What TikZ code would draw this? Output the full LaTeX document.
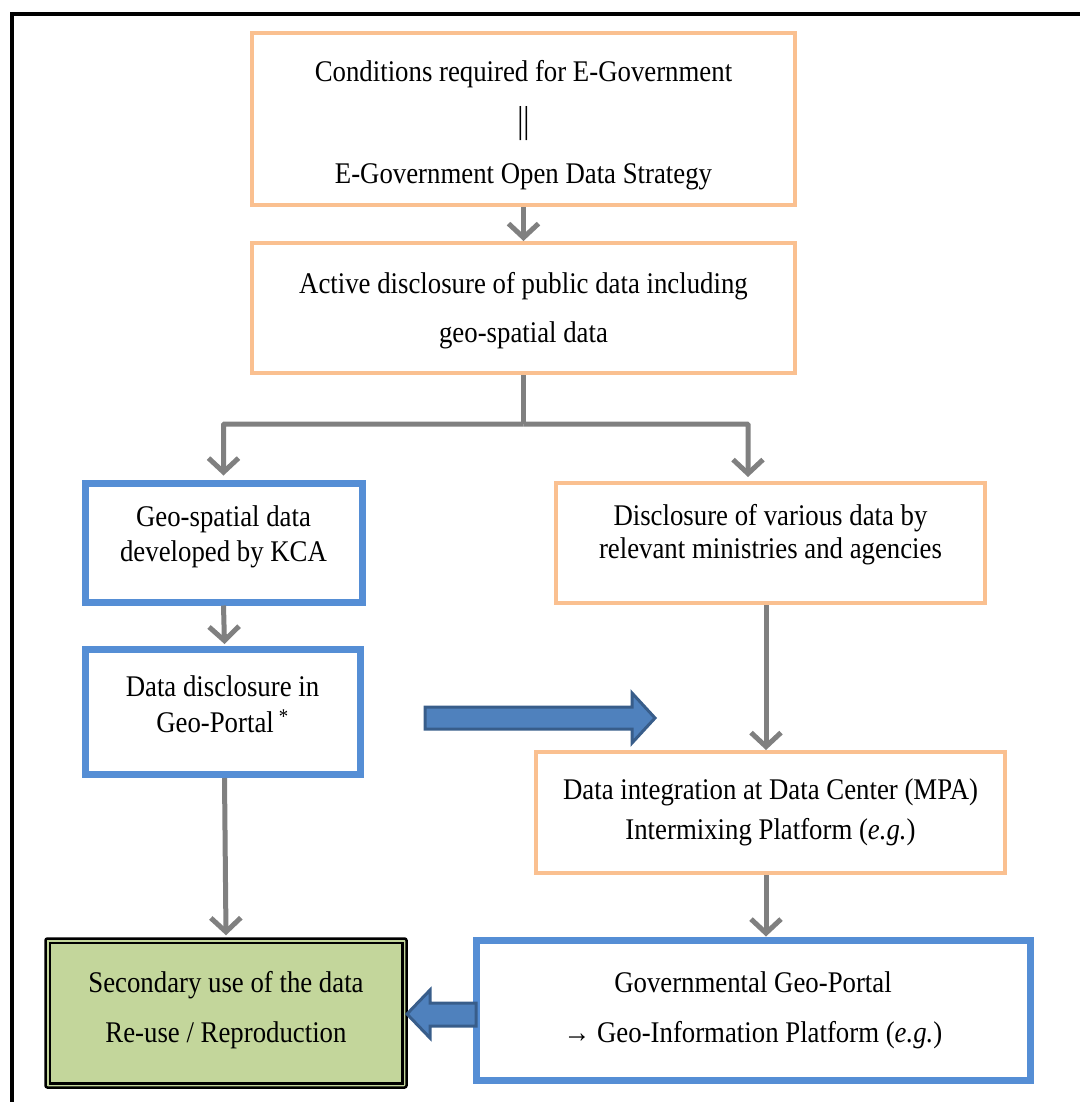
\documentclass[tikz,border=0pt]{standalone}
\usepackage{fontspec}
\setmainfont[FakeStretch=0.893]{Liberation Serif}
\usetikzlibrary{arrows.meta,calc}
\definecolor{peach}{HTML}{FAC090}
\definecolor{skyblue}{HTML}{558ED5}
\definecolor{flowgray}{HTML}{808080}
\definecolor{sage}{HTML}{C3D69B}
\definecolor{blockfill}{HTML}{4F81BD}
\definecolor{blockedge}{HTML}{385D8A}
\begin{document}
\begin{tikzpicture}[x=1pt,y=-1pt,
  txt/.style={font=\fontsize{30}{#1}\selectfont,align=center,inner sep=0pt},
  orangebox/.style={draw=peach,line width=4pt,fill=white,inner sep=0pt},
  bluebox/.style={draw=skyblue,line width=7pt,fill=white,inner sep=0pt},
  flow/.style={draw=flowgray,line width=5pt,-{Straight Barb[length=14pt,width=30pt]}},
  blockarrow/.style={draw=blockedge,fill=blockfill,line width=3pt,line join=miter}]
\useasboundingbox (0,0) rectangle (1079,1102);
% outer frame
\draw[line width=4pt] (12,14) rectangle (1095,1120);

% boxes
\node[orangebox,minimum width=543pt,minimum height=172pt] (strategy) at (523.5,119) {};
\node[orangebox,minimum width=543pt,minimum height=130pt] (active) at (523.5,308) {};
\node[bluebox,minimum width=277pt,minimum height=119pt] (kca) at (223.5,542.5) {};
\node[orangebox,minimum width=429pt,minimum height=120pt] (various) at (770.5,543) {};
\node[bluebox,minimum width=275pt,minimum height=125pt] (portal) at (222.5,712) {};
\node[orangebox,minimum width=469pt,minimum height=121pt] (center) at (770.5,812.5) {};
\node[bluebox,minimum width=554pt,minimum height=140pt] (govportal) at (753,1010) {};
\node[draw=black,line width=2.5pt,fill=sage,rounded corners=2pt,minimum width=361pt,
  minimum height=149pt,inner sep=0pt] (reuse) at (226,1013) {};
\draw[line width=2.5pt] ($(reuse.north west)+(5.5,5.5)$) rectangle ($(reuse.south east)+(-5.5,-5.5)$);

% box texts
\node[txt=51pt] (strategy-t) at ($(strategy)+(0,6)$)
  {Conditions required for E-Government\\ \scalebox{1.15}[1.25]{||}\\ E-Government Open Data Strategy};
\node[txt=49pt] (active-t) at ($(active)+(0,3)$)
  {Active disclosure of public data including\\ geo-spatial data};
\node[txt=35pt] (kca-t) at ($(kca)+(0,-6)$) {Geo-spatial data\\ developed by KCA};
\node[txt=33pt] (various-t) at ($(various)+(0,-8)$)
  {Disclosure of various data by\\ relevant ministries and agencies};
\node[txt=36pt] (portal-t) at ($(portal)+(0,-8)$) {Data disclosure in\\ Geo-Portal\,\textsuperscript{*}};
\node[txt=40pt] (center-t) at (center)
  {Data integration at Data Center (MPA)\\ Intermixing Platform (\textit{e.g.})};
\node[txt=50pt] (govportal-t) at (govportal)
  {Governmental Geo-Portal\\ → Geo-Information Platform (\textit{e.g.})};
\node[txt=50pt] (reuse-t) at ($(reuse)+(0,-3)$) {Secondary use of the data\\ Re-use / Reproduction};

% grey connectors
\draw[flow] (strategy.south) -- (active.north);
\coordinate (split) at ($(active.south)+(0,49)$);
\coordinate (variousin) at ($(various.north west)+(194,-4)$);
\draw[draw=flowgray,line width=5pt] (active.south) -- (split);
\draw[flow,rounded corners=1pt] (split) -| ($(kca.north)+(0,-4)$);
\draw[flow,rounded corners=1pt] (split) -| (variousin);
\draw[flow] (kca.south) -- ($(portal.north)+(2,-2)$);
\coordinate (variousout) at ($(various.south west)+(212,0)$);
\draw[flow] (variousout) -- (variousout |- center.north);
\draw[flow] ($(portal.south)+(2,0)$) -- ($(reuse.north)+(0,-2)$);
\coordinate (centerout) at ($(center.south west)+(232,0)$);
\draw[flow] (centerout) -- (centerout |- govportal.north);

% block arrows
\draw[blockarrow] (425,707) -- (632,707) -- (632,693) -- (655,718) -- (632,743) -- (632,729) -- (425,729) -- cycle;
\draw[blockarrow] (476,1003) -- (430,1003) -- (430,990) -- (407,1014) -- (430,1038) -- (430,1026) -- (476,1026) -- cycle;
\end{tikzpicture}
\end{document}
